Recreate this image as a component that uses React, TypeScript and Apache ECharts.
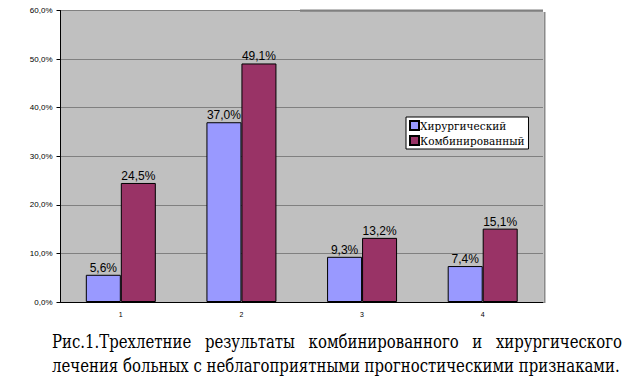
import React, { useEffect, useRef } from "react";
import * as echarts from "echarts";

const categories = ["1", "2", "3", "4"];
const surgical = [5.6, 37.0, 9.3, 7.4];
const combined = [24.5, 49.1, 13.2, 15.1];
const seriesNames = ["Хирургический", "Комбинированный"];
const captionLine1 = ["Рис.1.Трехлетние", "результаты", "комбинированного", "и", "хирургического"];
const captionLine2 = "лечения больных с неблагоприятными прогностическими признаками.";

const fmt = (v: number) => v.toFixed(1).replace(".", ",") + "%";
const SERIF = "DejaVu Serif";

export default function App() {
  const ref = useRef<HTMLDivElement>(null);
  useEffect(() => {
    if (!ref.current) return;
    const chart = echarts.init(ref.current, null, { renderer: "svg" });
    const capSize = 18;
    const ctx = document.createElement("canvas").getContext("2d")!;
    ctx.font = `${capSize}px "${SERIF}"`;
    const left = 52, right = 622, line2Right = 620;
    const sx = (line2Right - left) / ctx.measureText(captionLine2).width;
    const widths = captionLine1.map((w) => ctx.measureText(w).width * sx);
    const gap = (right - left - widths.reduce((a, b) => a + b, 0)) / (captionLine1.length - 1);
    let cx = left;
    const capStyle = { fontFamily: SERIF, fontSize: capSize, fill: "#000", verticalAlign: "middle", align: "left" };
    const capWords: any[] = captionLine1.map((w, i) => {
      const el = { type: "text", x: cx, y: 342, scaleX: sx, style: { ...capStyle, text: w }, silent: true };
      cx += widths[i] + gap;
      return el;
    });
    capWords.push({ type: "text", x: left, y: 366, scaleX: sx, style: { ...capStyle, text: captionLine2 }, silent: true });

    const labelStyle = {
      show: true,
      position: "top",
      distance: 1,
      fontFamily: "Liberation Sans, Arial",
      fontSize: 12,
      color: "#000",
      formatter: (p: any) => fmt(p.value),
    };

    chart.setOption({
      animation: false,
      backgroundColor: "#fff",
      grid: { left: 60.5, right: 81, top: 10.5, bottom: 84, show: true, backgroundColor: "#C0C0C0", borderWidth: 0 },
      legend: {
        orient: "vertical",
        left: 406,
        top: 117,
        backgroundColor: "#fff",
        borderColor: "#000",
        borderWidth: 1,
        padding: [3, 4, 3, 3],
        itemWidth: 9,
        itemHeight: 9,
        itemGap: 4,
        icon: "rect",
        textStyle: { fontFamily: SERIF, fontSize: 10.5, color: "#000", padding: [0, 0, 0, -4] },
        data: seriesNames,
      },
      xAxis: {
        type: "category",
        data: categories,
        axisLine: { lineStyle: { color: "#000", width: 1 } },
        axisTick: { length: 4, lineStyle: { color: "#000" } },
        axisLabel: { fontFamily: "Liberation Sans, Arial", fontSize: 7, color: "#000", margin: 9 },
      },
      yAxis: {
        type: "value",
        min: 0,
        max: 60,
        interval: 10,
        axisLine: { show: true, lineStyle: { color: "#000", width: 1 } },
        axisTick: { show: true, length: 4, lineStyle: { color: "#000" } },
        axisLabel: { fontFamily: "Liberation Sans, Arial", fontSize: 8, color: "#000", margin: 8, formatter: (v: number) => fmt(v) },
        splitLine: { lineStyle: { color: "#808080", width: 1 } },
      },
      series: [
        {
          name: seriesNames[0],
          type: "bar",
          data: surgical,
          barWidth: 35,
          barGap: "0%",
          itemStyle: { color: "#9999FF", borderColor: "#000", borderWidth: 1 },
          label: labelStyle,
        },
        {
          name: seriesNames[1],
          type: "bar",
          data: combined,
          barWidth: 35,
          itemStyle: { color: "#993366", borderColor: "#000", borderWidth: 1 },
          label: labelStyle,
        },
      ],
      graphic: [
        { type: "line", shape: { x1: 61, y1: 10.5, x2: 300, y2: 10.5 }, style: { stroke: "#E8E8E8", lineWidth: 1 }, silent: true },
        { type: "line", shape: { x1: 300, y1: 10.5, x2: 543, y2: 10.5 }, style: { stroke: "#000", lineWidth: 1.5 }, silent: true },
        { type: "line", shape: { x1: 544.5, y1: 12, x2: 544.5, y2: 303 }, style: { stroke: "#8A8A8A", lineWidth: 2 }, silent: true },
        ...capWords,
      ],
    });
    return () => chart.dispose();
  }, []);
  return (
    <div style={{ position: "fixed", left: 0, top: 0, width: 624, height: 386, background: "#fff" }}>
      <div ref={ref} style={{ width: 624, height: 386 }} />
    </div>
  );
}
